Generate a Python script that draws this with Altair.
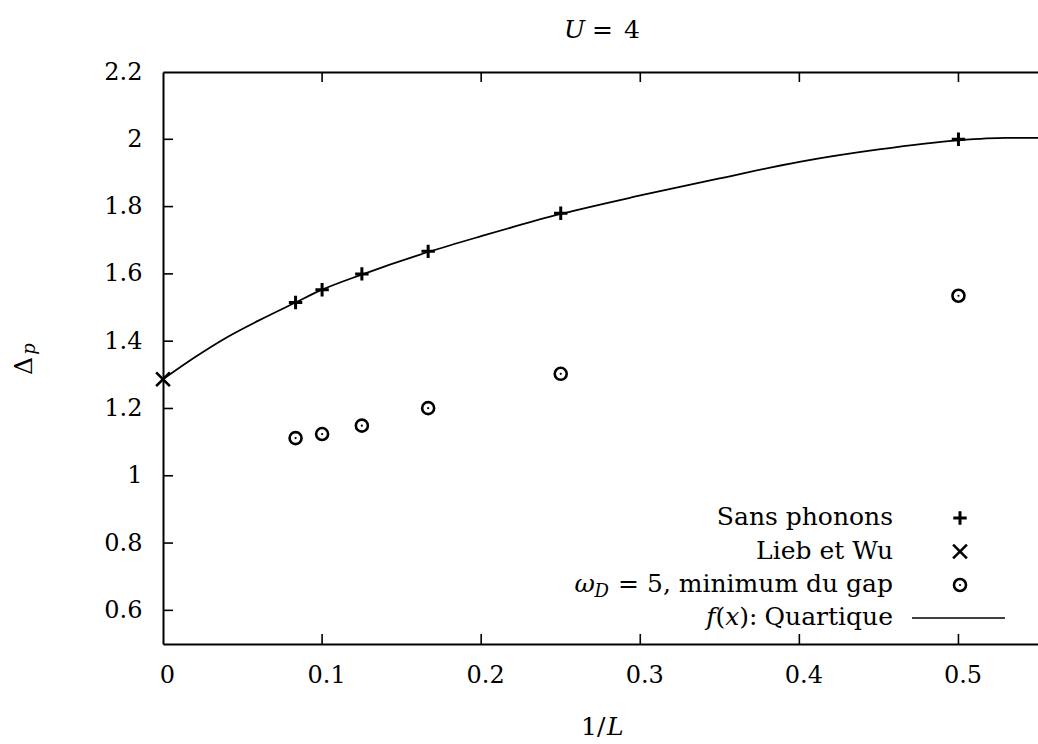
import altair as alt
import pandas as pd

FONT = "DejaVu Serif"
W, H = 875, 572

# 1/L values of the simulated chains
inv_L = [1 / 12, 1 / 10, 1 / 8, 1 / 6, 1 / 4, 1 / 2]
# gap without phonons
gap_sans_phonons = [1.515, 1.553, 1.600, 1.667, 1.780, 2.000]
# gap minimum with phonons (omega_D = 5)
gap_phonons = [1.112, 1.124, 1.149, 1.201, 1.303, 1.535]
# Lieb-Wu exact value in the thermodynamic limit
lieb_wu_x = [0.0]
lieb_wu_y = [1.2867]
# quartic fit f(x), sampled along the curve
fit_x = [0.0, 0.02, 0.04, 0.06, 1 / 12, 0.1, 0.125, 1 / 6, 0.2, 0.25,
         0.3, 0.35, 0.4, 0.45, 0.5, 0.53, 0.55]
fit_y = [1.2867, 1.352, 1.411, 1.461, 1.515, 1.553, 1.598, 1.665, 1.712,
         1.778, 1.833, 1.884, 1.933, 1.970, 1.997, 2.004, 2.004]

x_ticks = [0, 0.1, 0.2, 0.3, 0.4, 0.5]
y_ticks = [0.6, 0.8, 1.0, 1.2, 1.4, 1.6, 1.8, 2.0, 2.2]

fit_df = pd.DataFrame({"x": fit_x, "y": fit_y})
plus_df = pd.DataFrame({"x": inv_L, "y": gap_sans_phonons})
circ_df = pd.DataFrame({"x": inv_L, "y": gap_phonons})
lw_df = pd.DataFrame({"x": lieb_wu_x, "y": lieb_wu_y})
xt_df = pd.DataFrame({"x": x_ticks[1:]})
yt_df = pd.DataFrame({"y": y_ticks[:-1]})
one = pd.DataFrame({"k": [0]})

x_scale = alt.Scale(domain=[0, 0.55], nice=False, zero=False)
y_scale = alt.Scale(domain=[0.5, 2.2], nice=False, zero=False)

PLUS = "M-1,0H1M0,-1V1"
CROSS = "M-1,-1L1,1M-1,1L1,-1"
TICK_V = "M0,-1V1"

# main axes: labels + frame lines
x_main = alt.Axis(orient="bottom", values=x_ticks, format="~g", ticks=False,
                  domain=True, domainColor="black", domainWidth=2,
                  labelFont=FONT, labelFontSize=24, labelColor="black",
                  labelPadding=19, labelFlush=False, labelOffset=4,
                  title=None, grid=False)
y_main = alt.Axis(orient="left", values=y_ticks, format="~g", ticks=False,
                  domain=True, domainColor="black", domainWidth=2,
                  labelFont=FONT, labelFontSize=24, labelColor="black",
                  labelPadding=21, title=None, grid=False)
# top frame line
x_top = alt.Axis(orient="top", values=x_ticks, labels=False, ticks=False,
                 domain=True, domainColor="black", domainWidth=2,
                 title=None, grid=False)

curve = alt.Chart(fit_df).mark_line(
    color="black", strokeWidth=1.8, interpolate="monotone"
).encode(
    x=alt.X("x:Q", scale=x_scale, axis=x_main),
    y=alt.Y("y:Q", scale=y_scale, axis=y_main),
)

# inward tick marks on the bottom, top and left edges
TK = 10
ticks_bottom = alt.Chart(xt_df).mark_point(
    shape=TICK_V, size=TK * TK, filled=False, color="black", strokeWidth=1.6, opacity=1
).encode(x=alt.X("x:Q", scale=x_scale, axis=x_top), y=alt.value(H - TK / 2))
ticks_top = alt.Chart(xt_df).mark_rule(color="black", strokeWidth=1.6).encode(
    x=alt.X("x:Q", scale=x_scale, axis=None), y=alt.value(0), y2=alt.value(TK))
ticks_left = alt.Chart(yt_df).mark_tick(color="black", thickness=1.6, size=TK, opacity=1).encode(
    y=alt.Y("y:Q", scale=y_scale, axis=None), x=alt.value(TK / 2))


def pts(df, shape, size, filled=False, sw=2.6):
    return alt.Chart(df).mark_point(
        shape=shape, size=size, filled=filled, color="black",
        strokeWidth=sw, opacity=1
    ).encode(
        x=alt.X("x:Q", scale=x_scale, axis=None),
        y=alt.Y("y:Q", scale=y_scale, axis=None),
    )


plus_pts = pts(plus_df, PLUS, 180, sw=3)
circ_pts = pts(circ_df, "circle", 144)
circ_dots = pts(circ_df, "circle", 5, filled=True, sw=0)
lw_pts = pts(lw_df, CROSS, 190)


def txt(s, x, y, size=25, style="normal", align="left", baseline="alphabetic", angle=0):
    return alt.Chart(one).mark_text(
        text=s, font=FONT, fontSize=size, fontStyle=style, align=align,
        baseline=baseline, angle=angle, color="black"
    ).encode(x=alt.value(x), y=alt.value(y))


def sym(shape, x, y, size, filled=False, sw=2.6):
    return alt.Chart(one).mark_point(
        shape=shape, size=size, filled=filled, color="black",
        strokeWidth=sw, opacity=1
    ).encode(x=alt.value(x), y=alt.value(y))


LX = 730      # right edge of legend labels
SX = 797      # legend symbol column
rows_sym = [446, 479.5, 513, 546]
rows_txt = [453, 486.5, 520, 553]

legend = [
    txt("Sans phonons", LX, rows_txt[0], align="right"),
    sym(PLUS, SX, rows_sym[0], 180, sw=3),
    txt("Lieb et Wu", LX, rows_txt[1], align="right"),
    sym(CROSS, SX, rows_sym[1], 190),
    # "ω_D = 5, minimum du gap"
    txt("= 5, minimum du gap", LX, rows_txt[2], align="right"),
    txt("D", 446, rows_txt[2] + 5, size=18, style="italic", align="right"),
    txt("ω", 432, rows_txt[2], style="italic", align="right"),
    sym("circle", SX, rows_sym[2], 144),
    sym("circle", SX, rows_sym[2], 5, filled=True, sw=0),
    # "f(x): Quartique"
    txt("Quartique", LX, rows_txt[3], align="right"),
    txt("):", 594.5, rows_txt[3], align="right"),
    txt("x", 576.3, rows_txt[3], style="italic", align="right"),
    txt("(", 562.2, rows_txt[3], align="right"),
    txt("f", 552.5, rows_txt[3], style="italic", align="right"),
    alt.Chart(one).mark_rule(color="black", strokeWidth=1.6).encode(
        x=alt.value(749), x2=alt.value(842), y=alt.value(rows_sym[3])
    ),
]

labels = [
    # title "U = 4"
    txt("U", 401, -34, style="italic"),
    txt("=", 429, -34),
    txt("4", 461, -34),
    # x title "1/L"
    txt("1/", 418, 663),
    txt("L", 444, 663, style="italic"),
    # y title "Δ_p"
    txt("Δ", -131, 294, align="center", angle=270),
    txt("p", -128, 277, size=18, style="italic", align="center", angle=270),
]

chart = alt.layer(
    curve, ticks_bottom, ticks_top, ticks_left,
    plus_pts, circ_pts, circ_dots, lw_pts, *legend, *labels
).resolve_axis(
    x="independent", y="independent"
).properties(
    width=W, height=H,
    padding={"left": 163, "top": 72, "right": 0, "bottom": 100},
    autosize=alt.AutoSizeParams(type="none"),
    background="white",
).configure_view(stroke=None)

chart.save("out.html", embed_options={"renderer": "svg", "actions": False})
